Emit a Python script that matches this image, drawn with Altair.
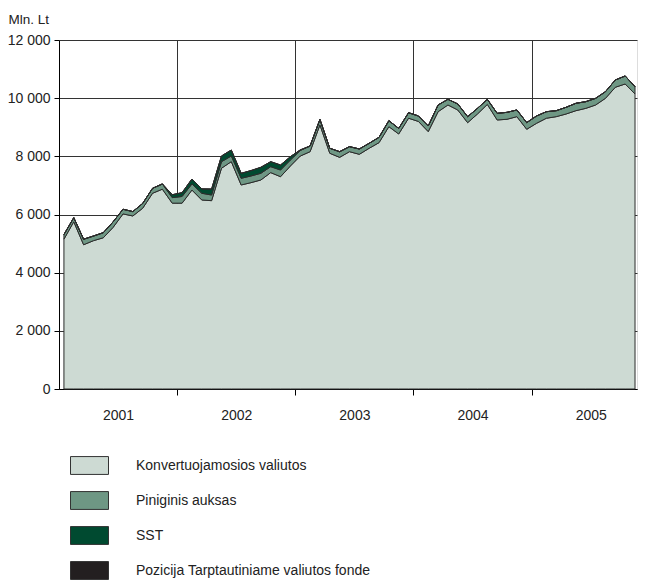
import altair as alt
import pandas as pd

series = ["Konvertuojamosios valiutos", "Piniginis auksas", "SST",
          "Pozicija Tarptautiniame valiutos fonde"]
colors = ["#cddad3", "#6e9784", "#004a30", "#231f20"]
years = ["2001", "2002", "2003", "2004", "2005"]
months = list(range(59))  # Jan 2001 .. Nov 2005

konv = [5150, 5750, 4960, 5100, 5200, 5560, 6020, 5950, 6215, 6730, 6870, 6390,
        6390, 6840, 6500, 6475, 7590, 7817, 7015, 7095, 7187, 7440, 7300, 7668,
        8010, 8160, 9080, 8105, 7965, 8160, 8070, 8277, 8470, 9020, 8769, 9310,
        9200, 8850, 9535, 9766, 9594, 9157, 9456, 9785, 9250, 9274, 9364, 8930,
        9136, 9310, 9364, 9456, 9570, 9650, 9766, 9995, 10375, 10488, 10144]
gold = [160, 140, 190, 160, 175, 190, 160, 150, 165, 170, 180, 190,
        230, 210, 230, 195, 225, 195, 230, 230, 230, 205, 230, 205,
        190, 195, 190, 172, 195, 173, 183, 171, 184, 206, 191, 190,
        188, 194, 231, 194, 206, 207, 194, 175, 228, 239, 230, 230,
        252, 225, 206, 230, 254, 230, 229, 229, 251, 275, 251]
sst = [0, 0, 0, 0, 0, 0, 0, 0, 0, 0, 0, 100,
       130, 170, 150, 205, 195, 205, 170, 185, 205, 170, 170, 115,
       20, 0, 0, 0, 0, 0, 0, 0, 0, 0, 0, 0,
       0, 0, 0, 0, 0, 0, 0, 0, 0, 0, 0, 0,
       0, 0, 0, 0, 0, 0, 0, 0, 0, 0, 0]
tvf = [0.1, 0.1, 0.1, 0.1, 0.1, 0.1, 0.1, 0.1, 0.1, 0.1, 0.1, 0.1,
       0.1, 0.1, 0.1, 0.1, 0.1, 0.1, 0.1, 0.1, 0.1, 0.1, 0.1, 0.1,
       0.1, 0.1, 0.1, 0.1, 0.1, 0.1, 0.1, 0.1, 0.1, 0.1, 0.1, 0.1,
       0.1, 0.1, 0.1, 0.1, 0.1, 0.1, 0.1, 0.1, 0.1, 0.1, 0.1, 0.1,
       0.1, 0.1, 0.1, 0.1, 0.1, 0.1, 0.1, 0.1, 0.1, 0.1, 0.1]

rows = []
for s_idx, (name, vals) in enumerate(zip(series, [konv, gold, sst, tvf])):
    for m, v in zip(months, vals):
        rows.append({"m": m, "v": v, "s": name, "o": s_idx})
df = pd.DataFrame(rows)

font = "Liberation Sans, Arial, sans-serif"
bounds = [11.5, 23.5, 35.5, 47.5]
label_pos = [5.5, 17.5, 29.5, 41.5, 53.5]
x_values = sorted(bounds + label_pos)
year_js = "[" + ",".join(f"'{y}'" for y in years) + "]"
x_label_expr = f"(datum.value - 5.5) % 12 == 0 ? {year_js}[(datum.value - 5.5) / 12] : ''"
is_bound = "(datum.value - 5.5) % 12 != 0"

chart = alt.Chart(df).mark_area(stroke="#2b2b2b", strokeWidth=1, opacity=1).encode(
    x=alt.X("m:Q",
            scale=alt.Scale(domain=[-0.5, 58.2], nice=False, zero=False),
            axis=alt.Axis(values=x_values, labelExpr=x_label_expr, title=None,
                          grid=True, gridColor="#333333", gridWidth=1,
                          gridOpacity={"condition": {"test": is_bound, "value": 1}, "value": 0},
                          tickOpacity={"condition": {"test": is_bound, "value": 1}, "value": 0},
                          tickSize=6, tickColor="#000000", domainColor="#000000",
                          labelPadding=13, labelBaseline="top", labelFontSize=14,
                          labelFont=font, labelColor="#222222", labelFlush=False)),
    y=alt.Y("v:Q", stack="zero",
            scale=alt.Scale(domain=[0, 12000], nice=False),
            axis=alt.Axis(values=[0, 2000, 4000, 6000, 8000, 10000, 12000],
                          labelExpr="replace(format(datum.value, ','), ',', ' ')",
                          title="Mln. Lt", titleAngle=0, titleAlign="left",
                          titleBaseline="alphabetic", titleX=-51, titleY=-17,
                          titleFont=font, titleFontSize=13.5, titleFontWeight="normal",
                          titleColor="#222222",
                          grid=True, gridColor="#333333", gridWidth=1,
                          tickSize=5, tickColor="#000000", domainColor="#000000",
                          labelPadding=4, labelFontSize=14, labelFont=font,
                          labelColor="#222222")),
    color=alt.Color("s:N", scale=alt.Scale(domain=series, range=colors),
                    legend=alt.Legend(title=None, orient="none", legendX=11, legendY=406,
                                      direction="vertical",
                                      symbolType="M-1,-0.47L1,-0.47L1,0.47L-1,0.47Z",
                                      symbolSize=1444, symbolStrokeColor="#333333",
                                      symbolStrokeWidth=1, symbolOpacity=1,
                                      labelFontSize=14, labelFont=font, labelOffset=27,
                                      labelLimit=400,
                                      labelColor="#222222", rowPadding=4, padding=0)),
    order=alt.Order("o:Q"),
).properties(
    width=578, height=349,
    autosize=alt.AutoSizeParams(type="none"),
    padding={"left": 51, "top": 32, "right": 1, "bottom": 191},
).configure_view(stroke=None).configure(background="white")

chart.save("out.html", embed_options={"renderer": "svg", "actions": False})
